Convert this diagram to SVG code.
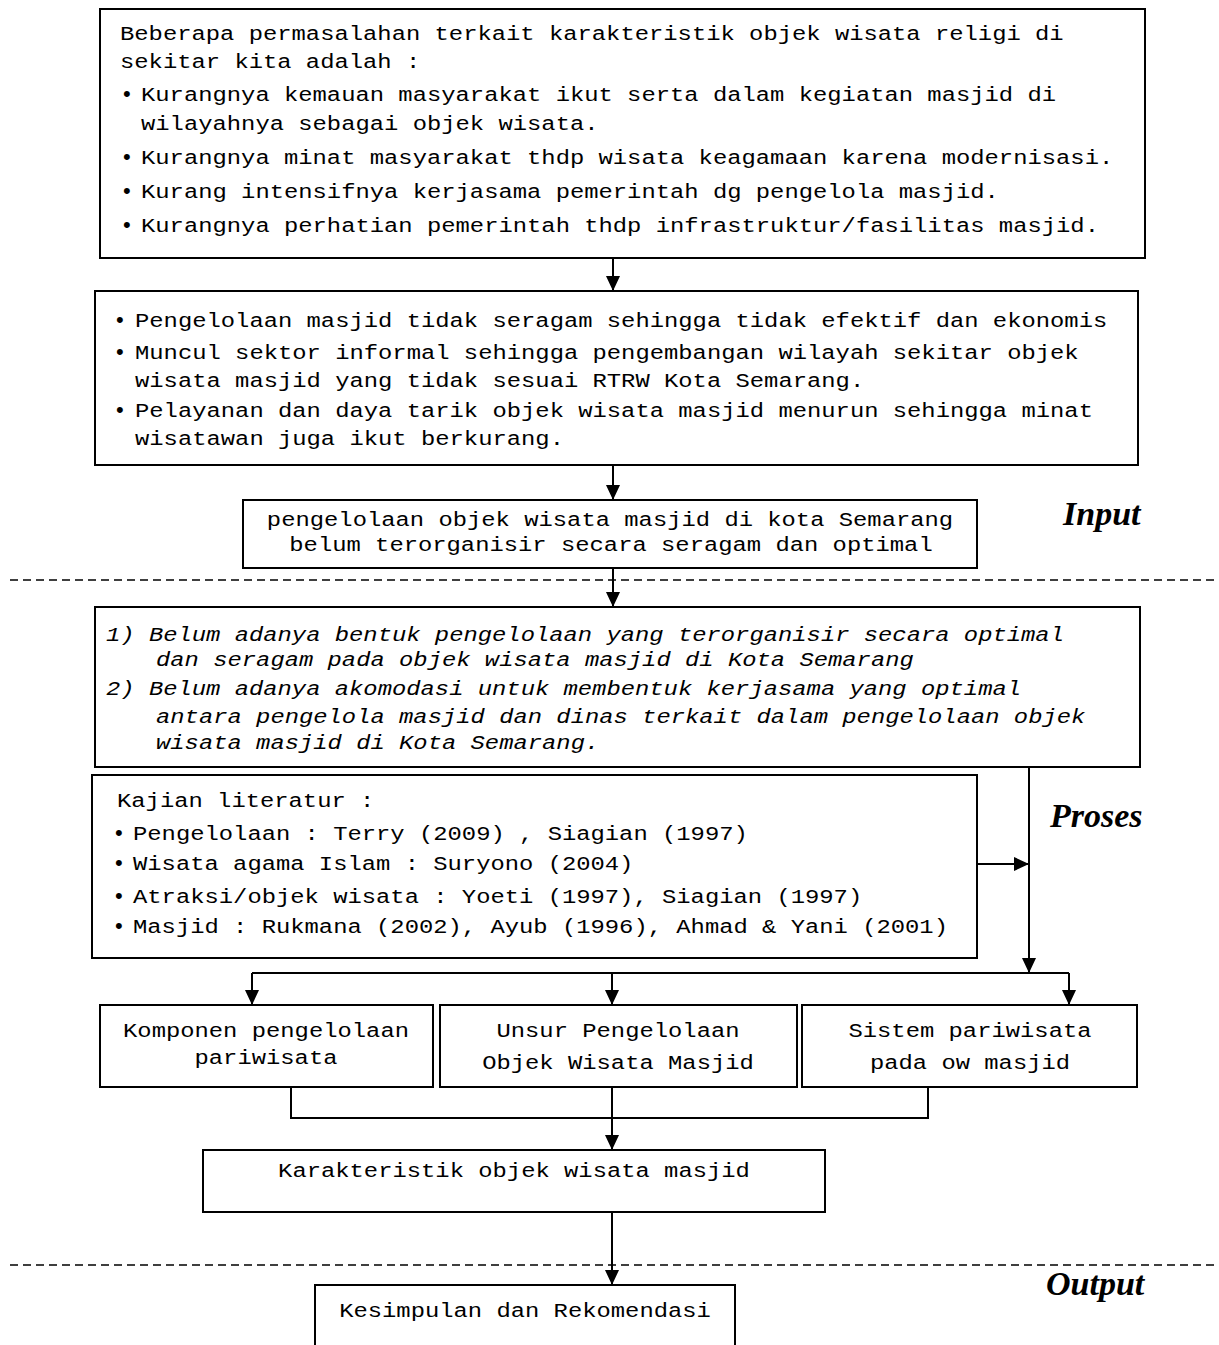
<svg xmlns="http://www.w3.org/2000/svg" width="1219" height="1345" viewBox="0 0 1219 1345">
<defs>
<marker id="ah" markerUnits="userSpaceOnUse" markerWidth="15" markerHeight="14" viewBox="0 0 15 14" refX="15" refY="7" orient="auto">
<path d="M0,0 L15,7 L0,14 Z" fill="#000"/>
</marker>
<style>
.box{fill:#fff;stroke:#000;stroke-width:2}
.t{font-family:"Liberation Mono","Courier New",monospace;font-size:21px;fill:#000}
.i{font-style:italic}
.c{text-anchor:middle}
.b{font-family:"Liberation Sans",Arial,sans-serif;font-size:22px;fill:#000}
.lab{font-family:"Liberation Serif","Times New Roman",serif;font-size:34px;font-weight:bold;font-style:italic;fill:#000}
.ln{fill:none;stroke:#000;stroke-width:2}
.ar{fill:none;stroke:#000;stroke-width:2;marker-end:url(#ah)}
.dash{fill:none;stroke:#000;stroke-width:1.5;stroke-dasharray:8 5}
</style>
</defs>
<rect width="1219" height="1345" fill="#fff"/>

<g id="separators">
<line class="dash" x1="10" y1="580" x2="1219" y2="580"/>
<line class="dash" x1="10" y1="1265" x2="1219" y2="1265"/>
</g>

<g id="connectors">
<line class="ar" x1="613" y1="258" x2="613" y2="291"/>
<line class="ar" x1="613" y1="465" x2="613" y2="500"/>
<line class="ar" x1="613" y1="568" x2="613" y2="607"/>
<line class="ar" x1="1029" y1="767" x2="1029" y2="973"/>
<line class="ar" x1="977" y1="864" x2="1029" y2="864"/>
<line class="ln" x1="252" y1="973" x2="1069" y2="973"/>
<line class="ar" x1="252" y1="973" x2="252" y2="1005"/>
<line class="ar" x1="612" y1="973" x2="612" y2="1005"/>
<line class="ar" x1="1069" y1="973" x2="1069" y2="1005"/>
<path class="ln" d="M291,1087 V1118 H928 V1087"/>
<line class="ar" x1="612" y1="1087" x2="612" y2="1150"/>
<line class="ar" x1="612" y1="1212" x2="612" y2="1285"/>
</g>

<g id="box1">
<rect class="box" x="100" y="9" width="1045" height="249"/>
<text class="t" transform="translate(120,40) scale(1.135,1)">Beberapa permasalahan terkait karakteristik objek wisata religi di</text>
<text class="t" transform="translate(120,68) scale(1.135,1)">sekitar kita adalah :</text>
<text class="b" x="123" y="101">•</text>
<text class="t" transform="translate(141,101) scale(1.135,1)">Kurangnya kemauan masyarakat ikut serta dalam kegiatan masjid di</text>
<text class="t" transform="translate(141,130) scale(1.135,1)">wilayahnya sebagai objek wisata.</text>
<text class="b" x="123" y="164">•</text>
<text class="t" transform="translate(141,164) scale(1.135,1)">Kurangnya minat masyarakat thdp wisata keagamaan karena modernisasi.</text>
<text class="b" x="123" y="198">•</text>
<text class="t" transform="translate(141,198) scale(1.135,1)">Kurang intensifnya kerjasama pemerintah dg pengelola masjid.</text>
<text class="b" x="123" y="232">•</text>
<text class="t" transform="translate(141,232) scale(1.135,1)">Kurangnya perhatian pemerintah thdp infrastruktur/fasilitas masjid.</text>
</g>

<g id="box2">
<rect class="box" x="95" y="291" width="1043" height="174"/>
<text class="b" x="116" y="327">•</text>
<text class="t" transform="translate(135,327) scale(1.135,1)">Pengelolaan masjid tidak seragam sehingga tidak efektif dan ekonomis</text>
<text class="b" x="116" y="359">•</text>
<text class="t" transform="translate(135,359) scale(1.135,1)">Muncul sektor informal sehingga pengembangan wilayah sekitar objek</text>
<text class="t" transform="translate(135,387) scale(1.135,1)">wisata masjid yang tidak sesuai RTRW Kota Semarang.</text>
<text class="b" x="116" y="417">•</text>
<text class="t" transform="translate(135,417) scale(1.135,1)">Pelayanan dan daya tarik objek wisata masjid menurun sehingga minat</text>
<text class="t" transform="translate(135,445) scale(1.135,1)">wisatawan juga ikut berkurang.</text>
</g>

<g id="box3">
<rect class="box" x="243" y="500" width="734" height="68"/>
<text class="t c" transform="translate(610,526) scale(1.135,1)">pengelolaan objek wisata masjid di kota Semarang</text>
<text class="t c" transform="translate(611,551) scale(1.135,1)">belum terorganisir secara seragam dan optimal</text>
</g>

<g id="label-input"><text class="lab" x="1063" y="525">Input</text></g>

<g id="box4">
<rect class="box" x="95" y="607" width="1045" height="160"/>
<text class="t i" transform="translate(106,641) scale(1.135,1)">1) Belum adanya bentuk pengelolaan yang terorganisir secara optimal</text>
<text class="t i" transform="translate(156,666) scale(1.135,1)">dan seragam pada objek wisata masjid di Kota Semarang</text>
<text class="t i" transform="translate(106,695) scale(1.135,1)">2) Belum adanya akomodasi untuk membentuk kerjasama yang optimal</text>
<text class="t i" transform="translate(156,723) scale(1.135,1)">antara pengelola masjid dan dinas terkait dalam pengelolaan objek</text>
<text class="t i" transform="translate(156,749) scale(1.135,1)">wisata masjid di Kota Semarang.</text>
</g>

<g id="box5">
<rect class="box" x="92" y="775" width="885" height="183"/>
<text class="t" transform="translate(117,807) scale(1.135,1)">Kajian literatur :</text>
<text class="b" x="115" y="840">•</text>
<text class="t" transform="translate(133,840) scale(1.135,1)">Pengelolaan : Terry (2009) , Siagian (1997)</text>
<text class="b" x="115" y="870">•</text>
<text class="t" transform="translate(133,870) scale(1.135,1)">Wisata agama Islam : Suryono (2004)</text>
<text class="b" x="115" y="903">•</text>
<text class="t" transform="translate(133,903) scale(1.135,1)">Atraksi/objek wisata : Yoeti (1997), Siagian (1997)</text>
<text class="b" x="115" y="933">•</text>
<text class="t" transform="translate(133,933) scale(1.135,1)">Masjid : Rukmana (2002), Ayub (1996), Ahmad &amp; Yani (2001)</text>
</g>

<g id="label-proses"><text class="lab" x="1050" y="827">Proses</text></g>

<g id="boxA">
<rect class="box" x="100" y="1005" width="333" height="82"/>
<text class="t c" transform="translate(266,1037) scale(1.135,1)">Komponen pengelolaan</text>
<text class="t c" transform="translate(266,1064) scale(1.135,1)">pariwisata</text>
</g>
<g id="boxB">
<rect class="box" x="440" y="1005" width="357" height="82"/>
<text class="t c" transform="translate(618,1037) scale(1.135,1)">Unsur Pengelolaan</text>
<text class="t c" transform="translate(618,1069) scale(1.135,1)">Objek Wisata Masjid</text>
</g>
<g id="boxC">
<rect class="box" x="802" y="1005" width="335" height="82"/>
<text class="t c" transform="translate(970,1037) scale(1.135,1)">Sistem pariwisata</text>
<text class="t c" transform="translate(970,1069) scale(1.135,1)">pada ow masjid</text>
</g>

<g id="boxD">
<rect class="box" x="203" y="1150" width="622" height="62"/>
<text class="t c" transform="translate(514,1177) scale(1.135,1)">Karakteristik objek wisata masjid</text>
</g>

<g id="label-output"><text class="lab" x="1046" y="1295">Output</text></g>

<g id="boxE">
<rect class="box" x="315" y="1285" width="420" height="70"/>
<text class="t c" transform="translate(525,1317) scale(1.135,1)">Kesimpulan dan Rekomendasi</text>
</g>
</svg>
